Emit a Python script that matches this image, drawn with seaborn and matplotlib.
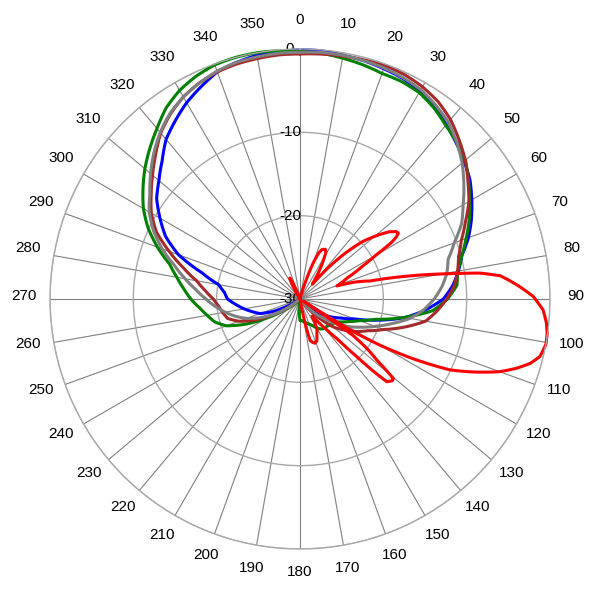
import numpy as np
import pandas as pd
import matplotlib
matplotlib.use("Agg")
import matplotlib.pyplot as plt
import seaborn as sns

sns.set_style("white")
plt.rcParams['font.family'] = ['Liberation Sans', 'DejaVu Sans']

# ---- data (degrees, dB) ----
angles = list(range(0, 360, 5))

blue = [-0.1, -0.1, -0.3, -0.4, -0.6, -0.8, -1.2, -1.9, -2.7, -3.5, -4.3, -5.1,
        -6.2, -7.3, -8.5, -9.9, -10.7, -11.6, -12.8, -14.9, -17.2, -20.2, -23.0, -24.6,
        -25.7, -26.8, -28.0, -29.2, -30, -30, -30, -30, -30, -30, -30, -30,
        -30, -30, -30, -30, -30, -30, -30, -30, -30, -30, -30, -30,
        -28.5, -26.5, -24.9, -24.1, -23.2, -22.3, -21.3, -20.9, -20.1, -17.8, -14.5, -12.2,
        -10.6, -9.0, -7.9, -6.6, -5.0, -3.9, -2.8, -1.9, -1.0, -0.6, -0.3, -0.2]

green = [-0.3, -0.4, -0.65, -0.9, -1.2, -1.2, -1.4, -2.0, -2.8, -3.4, -4.1, -5.3,
         -6.5, -7.6, -8.8, -9.9, -10.8, -11.1, -12.3, -14.0, -17.3, -20.6, -22.4, -23.6,
         -24.5, -25.0, -25.2, -25.4, -25.4, -25.6, -26.0, -26.5, -26.8, -27.0, -27.2, -27.4,
         -27.4, -29.0, -30, -30, -30, -30, -30, -30, -30, -29.5, -28.8, -27.5,
         -25.5, -22.9, -20.6, -19.4, -18.7, -17.9, -16.9, -16.0, -15.0, -13.8, -11.8, -9.9,
         -8.3, -7.0, -5.7, -4.5, -3.3, -2.0, -1.1, -0.5, -0.1, 0.0, 0.0, -0.1]

brown = [-0.6, -0.5, -0.4, -0.3, -0.2, -0.3, -0.6, -1.1, -1.9, -3.0, -4.1, -5.4,
         -6.6, -8.1, -9.4, -10.3, -10.8, -11.4, -12.4, -13.5, -14.7, -17.0, -19.3, -21.0,
         -22.2, -23.5, -24.8, -26.8, -29.0, -30, -30, -30, -30, -30, -30, -30,
         -30, -30, -30, -30, -30, -30, -30, -30, -30, -30, -30, -28.0,
         -26.2, -24.0, -22.2, -21.0, -20.6, -20.2, -19.6, -18.6, -17.4, -15.5, -13.3, -11.0,
         -9.4, -8.2, -6.9, -5.5, -4.0, -2.9, -2.0, -1.4, -1.0, -0.8, -0.7, -0.6]

gray = [-0.4, -0.3, -0.3, -0.4, -0.5, -0.7, -1.0, -1.6, -2.3, -3.4, -4.6, -6.0,
        -7.4, -8.6, -10.3, -11.6, -12.1, -12.9, -13.9, -15.1, -16.6, -18.6, -20.4, -22.0,
        -23.4, -25.0, -26.5, -28.0, -30, -30, -30, -30, -30, -30, -30, -30,
        -30, -30, -30, -30, -30, -30, -30, -30, -30, -30, -30, -28.0,
        -26.3, -24.7, -23.2, -22.0, -20.9, -19.8, -18.7, -17.5, -16.0, -14.4, -12.4, -10.6,
        -9.1, -8.0, -6.6, -5.2, -3.9, -2.8, -2.0, -1.4, -0.9, -0.6, -0.5, -0.4]

red_angles = [0, 15, 18, 20, 22, 24, 27, 29, 31, 34, 37, 40, 42, 44.6, 47.5, 50.7, 53, 55,
              56.2, 57.3, 58.2, 60, 62.4, 66, 70.5, 73, 75.6, 78, 79.9, 80.9, 81.8, 83.4,
              86.3, 89.4, 92.6, 95.5, 98, 100.5, 103.5, 105.6, 107.7, 110, 112.8, 115.3,
              117.6, 119.8, 121.5, 123, 124.5, 126.5, 128.5, 130.4, 131.5, 133.6, 134.6,
              135.5, 137, 139, 142, 145, 148, 151, 154, 158, 161.3, 164, 166.3, 168, 170,
              328, 331, 334, 336, 339, 360]
red = [-30, -30, -27.5, -25.5, -24.1, -23.5, -23.3, -23.6, -24.5, -25.8, -27.0, -27.7, -25.0,
       -22.3, -19.8, -17.9, -16.6, -15.9, -15.8, -16.3, -17.0, -19.5, -21.6, -23.8, -25.3,
       -23.0, -21.3, -16.8, -12.9, -10.6, -8.2, -5.8, -3.9, -2.0, -0.8, -0.3, -0.05, 0.0,
       -0.4, -1.3, -2.7, -4.5, -7.4, -10.1, -14.2, -18.5, -22.5, -29.5, -22.3, -20.0, -18.2,
       -15.3, -15.2, -15.6, -17.8, -20.4, -23.5, -25.1, -26.6, -27.5, -26.6, -25.8, -25.4,
       -24.6, -24.4, -24.6, -24.9, -27.0, -30, -30, -28.2, -27.2, -27.8, -30, -30]

angle_labels = [str(a) for a in range(0, 360, 10)]
radial_ticks = [-30, -20, -10, 0]
radial_labels = ["-30", "-20", "-10", "0"]

# ---- figure ----
fig = plt.figure(figsize=(6, 6), dpi=100)
ax = fig.add_axes([50/600, 51/600, 500/600, 500/600], projection='polar')
ax.set_theta_zero_location('N')
ax.set_theta_direction(-1)
ax.set_ylim(-30, 0)

ax.set_xticks(np.deg2rad(np.arange(0, 360, 10)))
ax.set_xticklabels([])
ax.set_yticks(radial_ticks)
ax.set_yticklabels([])
ax.xaxis.grid(True, color='#808080', linewidth=0.8)
ax.yaxis.grid(True, color='#a8a8a8', linewidth=1.0)
ax.spines['polar'].set_color('#a8a8a8')
ax.spines['polar'].set_linewidth(1.0)

def closed(a, v):
    return np.deg2rad(list(a) + [360]), list(v) + [v[0]]

series = [("blue", blue, "#0000ff"), ("green", green, "#008000"),
          ("brown", brown, "#a52a2a"), ("gray", gray, "#808080")]
for name, vals, col in series:
    th, rr = closed(angles, vals)
    df = pd.DataFrame({"theta": th, "r": rr})
    sns.lineplot(data=df, x="theta", y="r", ax=ax, sort=False, estimator=None,
                 color=col, linewidth=2.2, clip_on=False)

dfr = pd.DataFrame({"theta": np.deg2rad(red_angles), "r": red})
sns.lineplot(data=dfr, x="theta", y="r", ax=ax, sort=False, estimator=None,
             color="#ff0000", linewidth=2.2, clip_on=False)

# draw segments as arcs in polar space (smooth rendering between data points)
for ln in ax.lines:
    ln.set_solid_joinstyle('round')
    ln._path._interpolation_steps = 12
    ln.set_data(*ln.get_data())

ax.set_xlabel("")
ax.set_ylabel("")
ax.set_ylim(-30, 0)

# angle labels
r_lab = -30 + 276/250*30
for a, lab in zip(range(0, 360, 10), angle_labels):
    ax.annotate(lab, xy=(np.deg2rad(a), r_lab), xytext=(0, 2.2), textcoords='offset points',
                ha='center', va='center', fontsize=11, color='#000000',
                annotation_clip=False)

# radial labels
for rv, lab in zip(radial_ticks, radial_labels):
    ax.annotate(lab, xy=(0, rv), xytext=(-7.2, 0), textcoords='offset points',
                ha='center', va='center', fontsize=11, color='#000000',
                annotation_clip=False, zorder=1)

fig.savefig("out.png", dpi=100, facecolor='white')
